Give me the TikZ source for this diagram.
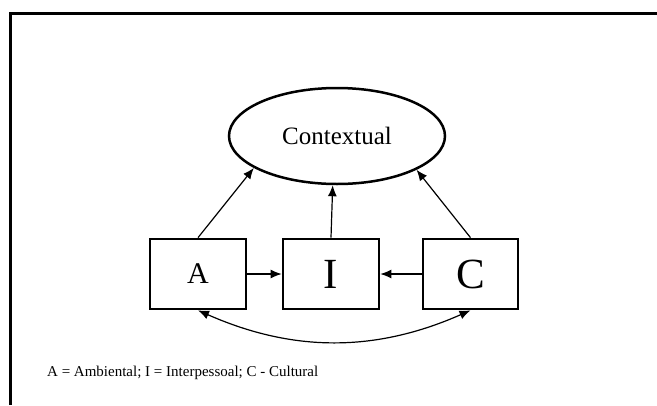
\documentclass[tikz,border=0pt]{standalone}
\usepackage{fontspec}
\setmainfont{Liberation Serif}
\usetikzlibrary{shapes.geometric,arrows.meta}
\begin{document}
\begin{tikzpicture}[x=1pt,y=-1pt,
  factor/.style={draw,line width=2.7pt,rectangle,minimum height=70pt,inner sep=0pt},
  latent/.style={draw,line width=2.5pt,ellipse,minimum width=216pt,minimum height=96pt,inner sep=0pt},
  tip/.style={Latex[length=11pt,width=9pt]},
  path/.style={line width=1.2pt,-{Latex[length=11pt,width=9pt]}},
  covar/.style={line width=1.2pt,{Latex[length=11pt,width=9pt]}-{Latex[length=11pt,width=9pt]}}]
  \useasboundingbox (0,0) rectangle (657,405);
  % open frame: top and left edges
  \draw[line width=3pt] (10.5,405) -- (10.5,13.5) -- (657,13.5);

  % latent construct
  \node[latent] (ctx) at (337,136) {\fontsize{25}{30}\selectfont Contextual};

  % observed factors
  \node[factor,minimum width=96pt] (a) at (198,274) {\fontsize{30}{36}\selectfont A};
  \node[factor,minimum width=96pt] (i) at (331,274) {\fontsize{43}{50}\selectfont I};
  \node[factor,minimum width=95pt] (c) at (470.5,274) {\fontsize{43}{50}\selectfont C};

  % paths to the construct
  \draw[path] (a.north) -- (ctx.201);
  \draw[path] (i.north) -- (ctx.265);
  \draw[path] (c.north) -- (ctx.337);

  % paths between factors
  \draw[path] (a) -- (i);
  \draw[path] (c) -- (i);

  % covariance between A and C
  \draw[covar] (a.south) .. controls +(95,42) and +(-95,42) .. (c.south);

  % legend
  \node[anchor=base west,inner sep=0pt] (leg) at (47,376)
    {\fontsize{15}{18}\selectfont A = Ambiental; I = Interpessoal; C - Cultural};
\end{tikzpicture}
\end{document}
